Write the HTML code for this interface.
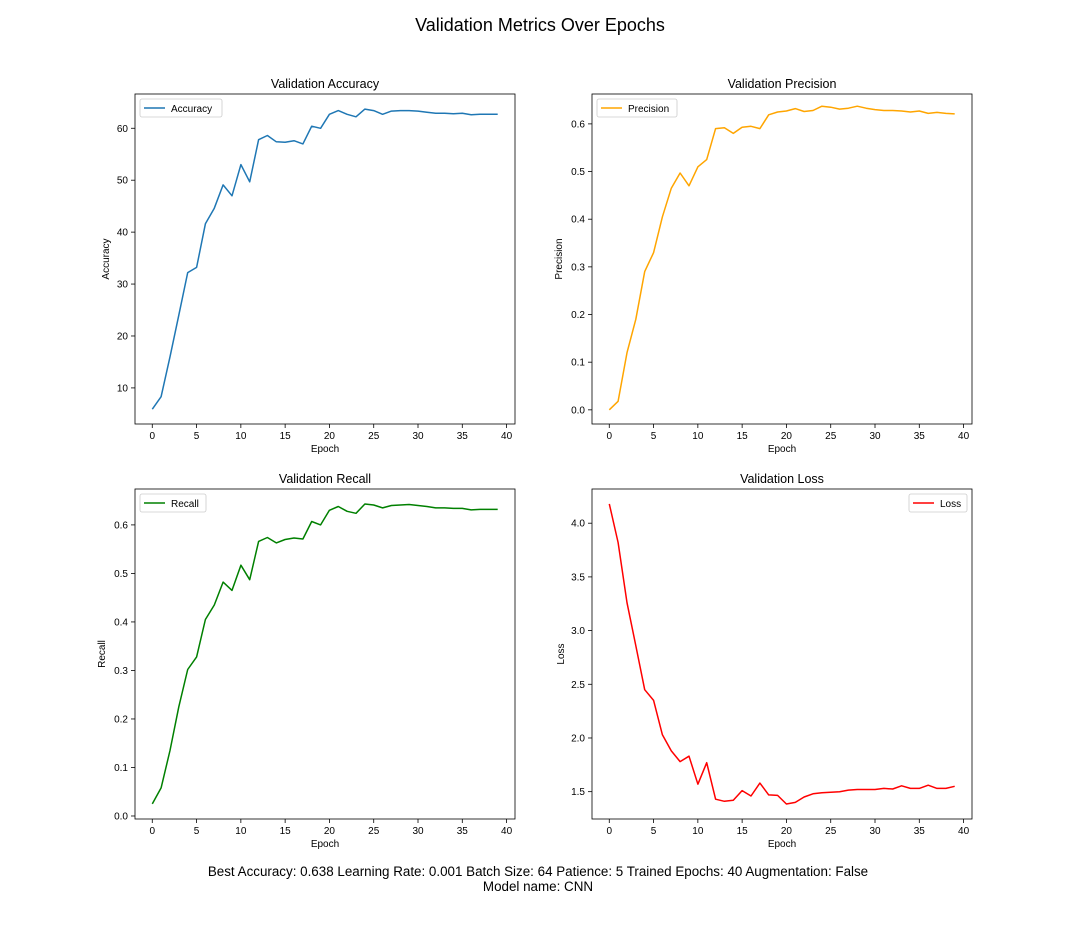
<!DOCTYPE html>
<html><head><meta charset="utf-8"><style>
body{margin:0;background:#fff;}
svg{display:block;font-family:"Liberation Sans","DejaVu Sans",sans-serif;}
</style></head><body>
<svg id="fig" width="1080" height="936">
<rect width="1080" height="936" fill="#fff"/>
<text x="540" y="31" font-size="18" text-anchor="middle">Validation Metrics Over Epochs</text>
<text x="538" y="876" font-size="13.4" text-anchor="middle">Best Accuracy: 0.638 Learning Rate: 0.001 Batch Size: 64 Patience: 5 Trained Epochs: 40 Augmentation: False</text>
<text x="538" y="891" font-size="13.4" text-anchor="middle">Model name: CNN</text>
</svg>
<script>
const epochs = Array.from({length:40},(_,i)=>i);
const accuracy = [5.9,8.3,16,24,32.2,33.2,41.6,44.6,49.1,47,53,49.7,57.8,58.6,57.4,57.3,57.6,57,60.4,60,62.7,63.4,62.7,62.2,63.7,63.4,62.7,63.3,63.4,63.4,63.3,63.1,62.9,62.9,62.8,62.9,62.6,62.7,62.7,62.7];
const precision = [0.0,0.018,0.12,0.19,0.29,0.33,0.405,0.465,0.497,0.47,0.51,0.525,0.59,0.592,0.58,0.593,0.595,0.59,0.619,0.625,0.627,0.632,0.626,0.628,0.637,0.635,0.631,0.633,0.637,0.633,0.63,0.628,0.628,0.627,0.625,0.627,0.622,0.624,0.622,0.621];
const recall = [0.025,0.058,0.135,0.225,0.302,0.328,0.405,0.435,0.482,0.465,0.517,0.487,0.566,0.574,0.563,0.57,0.573,0.571,0.607,0.6,0.63,0.638,0.628,0.624,0.643,0.641,0.635,0.64,0.641,0.642,0.64,0.638,0.635,0.635,0.634,0.634,0.631,0.632,0.632,0.632];
const loss = [4.18,3.82,3.26,2.86,2.45,2.35,2.03,1.88,1.78,1.83,1.57,1.77,1.43,1.41,1.42,1.51,1.46,1.58,1.47,1.465,1.385,1.40,1.45,1.48,1.49,1.495,1.50,1.515,1.52,1.52,1.52,1.53,1.525,1.555,1.53,1.53,1.56,1.53,1.53,1.55];
const xTicks = [0,5,10,15,20,25,30,35,40];
const accTicks = [10,20,30,40,50,60];
const precTicks = [0.0,0.1,0.2,0.3,0.4,0.5,0.6];
const recTicks = [0.0,0.1,0.2,0.3,0.4,0.5,0.6];
const lossTicks = [1.5,2.0,2.5,3.0,3.5,4.0];

const NS="http://www.w3.org/2000/svg";
const svg=document.getElementById('fig');
function mk(tag,attrs,parent){const e=document.createElementNS(NS,tag);for(const k in attrs)e.setAttribute(k,attrs[k]);(parent||svg).appendChild(e);return e;}

const panels=[
 {key:'accuracy',title:'Validation Accuracy',ylabel:'Accuracy',data:accuracy,ticks:accTicks,fmt:v=>String(v),color:'#1f77b4',x:135,y:94,ymin:3.05,ymax:66.6,legend:'left',lname:'Accuracy'},
 {key:'precision',title:'Validation Precision',ylabel:'Precision',data:precision,ticks:precTicks,fmt:v=>v.toFixed(1),color:'#ffa500',x:592,y:94,ymin:-0.0297,ymax:0.6627,legend:'left',lname:'Precision'},
 {key:'recall',title:'Validation Recall',ylabel:'Recall',data:recall,ticks:recTicks,fmt:v=>v.toFixed(1),color:'#008000',x:135,y:489,ymin:-0.0062,ymax:0.674,legend:'left',lname:'Recall'},
 {key:'loss',title:'Validation Loss',ylabel:'Loss',data:loss,ticks:lossTicks,fmt:v=>v.toFixed(1),color:'#ff0000',x:592,y:489,ymin:1.2455,ymax:4.3185,legend:'right',lname:'Loss'}
];
const W=380,H=330,XMIN=-1.95,XMAX=40.95;
panels.forEach(p=>{
 const g=mk('g',{});
 
 
 const sx=v=>p.x+(v-XMIN)/(XMAX-XMIN)*W;
 const sy=v=>p.y+H-(v-p.ymin)/(p.ymax-p.ymin)*H;
 const t=mk('text',{x:p.x+W/2,y:p.y-6,'font-size':12.5,'text-anchor':'middle'},g);t.textContent=p.title;
 
 
 xTicks.forEach(v=>{const X=sx(v);mk('line',{x1:X,x2:X,y1:p.y+H,y2:p.y+H+4,stroke:'#000','stroke-width':0.8},g);
  const tx=mk('text',{x:X,y:p.y+H+15,'font-size':10,'text-anchor':'middle'},g);tx.textContent=v;
  
  });
 p.ticks.forEach(v=>{const Y=sy(v);mk('line',{x1:p.x-4,x2:p.x,y1:Y,y2:Y,stroke:'#000','stroke-width':0.8},g);
  const ty=mk('text',{x:p.x-7,y:Y+3.5,'font-size':10,'text-anchor':'end'},g);ty.textContent=p.fmt(v);
  
  });
 const xl=mk('text',{x:p.x+W/2,y:p.y+H+28,'font-size':10,'text-anchor':'middle'},g);xl.textContent='Epoch';
 
 
 const lx=p.x-(p.key==='accuracy'?26:p.key==='loss'?28:30);
 const yl=mk('text',{x:lx,y:p.y+H/2,'font-size':10,'text-anchor':'middle',transform:`rotate(-90 ${lx} ${p.y+H/2})`},g);yl.textContent=p.ylabel;
 
 
 const pts=p.data.map((v,i)=>sx(epochs[i]).toFixed(1)+','+sy(v).toFixed(1)).join(' ');
 const line=mk('polyline',{points:pts,fill:'none',stroke:p.color,'stroke-width':1.5,'stroke-linejoin':'round'},g);
 
 
 mk('rect',{x:p.x,y:p.y,width:W,height:H,fill:'none',stroke:'#000','stroke-width':0.8},g);
 const lw=p.key==='precision'?80:p.key==='loss'?58:p.key==='recall'?66:82;
 const lxp=p.legend==='left'?p.x+5:p.x+W-5-lw;
 const lg=mk('g',{},g);
 
 
 mk('rect',{x:lxp,y:p.y+5,width:lw,height:18,rx:2,fill:'#fff',stroke:'#ccc','stroke-width':0.8},lg);
 mk('line',{x1:lxp+4,x2:lxp+25,y1:p.y+14,y2:p.y+14,stroke:p.color,'stroke-width':1.5},lg);
 const lt=mk('text',{x:lxp+31,y:p.y+18,'font-size':10},lg);lt.textContent=p.lname;
 
 
});
</script>
</body></html>
